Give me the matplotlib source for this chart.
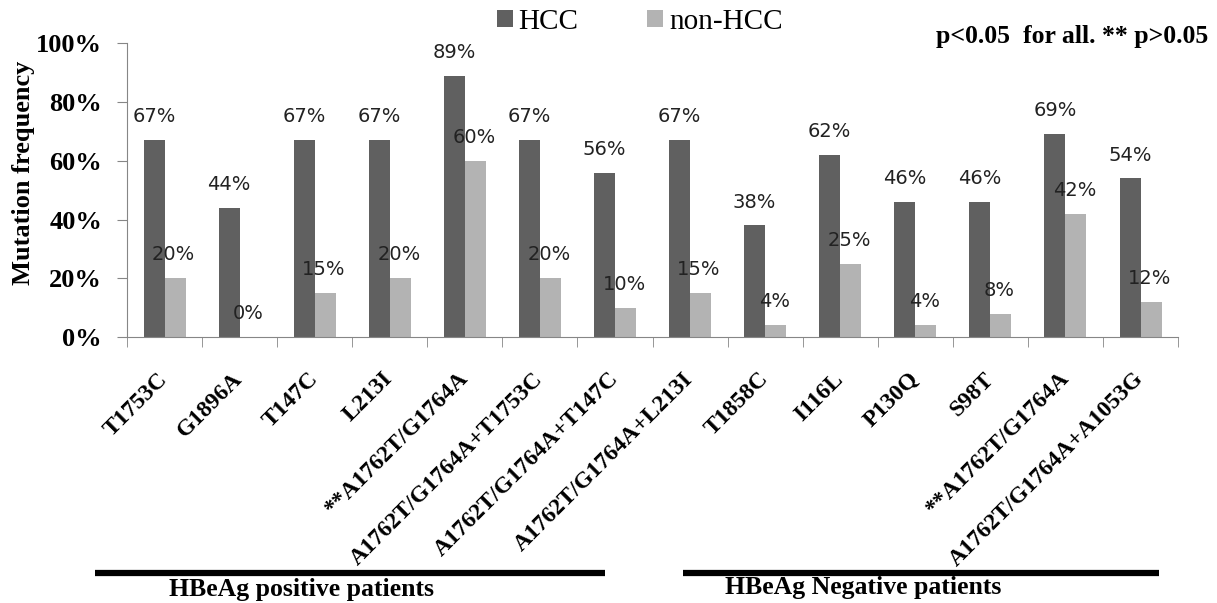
import numpy as np
import matplotlib
matplotlib.use('Agg')
import matplotlib.pyplot as plt
from matplotlib.transforms import blended_transform_factory
from matplotlib.lines import Line2D

mutations = ['T1753C', 'G1896A', 'T147C', 'L213I', '**A1762T/G1764A',
             'A1762T/G1764A+T1753C', 'A1762T/G1764A+T147C', 'A1762T/G1764A+L213I',
             'T1858C', 'I116L', 'P130Q', 'S98T', '**A1762T/G1764A',
             'A1762T/G1764A+A1053G']
hcc = [67, 44, 67, 67, 89, 67, 56, 67, 38, 62, 46, 46, 69, 54]
non_hcc = [20, 0, 15, 20, 60, 20, 10, 15, 4, 25, 4, 8, 42, 12]
groups = ['HBeAg positive patients', 'HBeAg Negative patients']

serif = 'Liberation Serif'
dark = '#606060'
light = '#b3b3b3'

fig = plt.figure(figsize=(12.17, 6.03), dpi=100)
ax = fig.add_axes([0.1044, 0.441, 0.8636, 0.4873])

x = np.arange(len(mutations))
w = 0.28
b1 = ax.bar(x - w/2, hcc, w, color=dark, label='HCC')
b2 = ax.bar(x + w/2, non_hcc, w, color=light, label='non-HCC')

for xi, v in zip(x, hcc):
    ax.annotate(f'{v}%', (xi - w/2, v), xytext=(0, 10), textcoords='offset points',
                ha='center', va='bottom', fontsize=14, color='#222222')
for xi, v in zip(x, non_hcc):
    ax.annotate(f'{v}%', (xi + w/2 - 0.02, v), xytext=(0, 10), textcoords='offset points',
                ha='center', va='bottom', fontsize=14, color='#222222')

ax.set_xlim(-0.5, len(mutations) - 0.5)
ax.set_ylim(0, 100)
ax.set_yticks(range(0, 101, 20))
ax.set_yticklabels([f'{t}%' for t in range(0, 101, 20)], family=serif,
                   fontweight='bold', fontsize=19)
ax.set_ylabel('Mutation frequency', family=serif, fontweight='bold', fontsize=19)
ax.yaxis.set_label_coords(-0.088, 0.56)

ax.set_xticks(x)
ax.set_xticklabels(mutations, rotation=45, ha='right', va='center',
                   rotation_mode='anchor', family=serif, fontweight='bold', fontsize=17)
ax.tick_params(axis='x', which='major', length=0, pad=28)
ax.set_xticks(np.arange(-0.5, len(mutations), 1), minor=True)
ax.tick_params(axis='x', which='minor', length=7, color='#868686')
ax.tick_params(axis='y', length=7, color='#868686', pad=11)

for s in ['top', 'right']:
    ax.spines[s].set_visible(False)
for s in ['left', 'bottom']:
    ax.spines[s].set_color('#868686')

leg = fig.legend(handles=[b1, b2], loc='center', bbox_to_anchor=(0.5255, 0.9635), ncol=2,
                 frameon=False, prop={'family': serif, 'size': 21}, handlelength=0.55,
                 handleheight=0.55, handletextpad=0.2, columnspacing=2.35)

fig.text(0.993, 0.94, 'p<0.05  for all. ** p>0.05', ha='right', va='center',
         family=serif, fontweight='bold', fontsize=18.5)

tr = blended_transform_factory(ax.transData, fig.transFigure)
spans = [(-0.927, 5.873), (6.9, 13.247)]
for x0, x1 in spans:
    fig.add_artist(Line2D([x0, x1], [0.05, 0.05], transform=tr, color='black', lw=4.5,
                          solid_capstyle='butt'))
ax.text(1.83, 0.022, groups[0], transform=tr, ha='center', va='center',
        family=serif, fontweight='bold', fontsize=18.5)
ax.text(9.3, 0.025, groups[1], transform=tr, ha='center', va='center',
        family=serif, fontweight='bold', fontsize=18.5)

fig.savefig('out.png', dpi=100)
